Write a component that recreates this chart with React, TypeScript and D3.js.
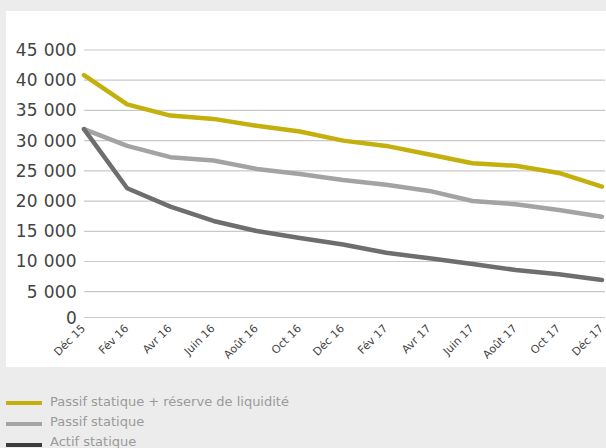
import React from "react";
import * as d3 from "d3";

const categories = ["Déc 15", "Fév 16", "Avr 16", "Juin 16", "Août 16", "Oct 16", "Déc 16", "Fév 17", "Avr 17", "Juin 17", "Août 17", "Oct 17", "Déc 17"];
const passifReserve = [40850, 36000, 34150, 33600, 32450, 31500, 30000, 29130, 27700, 26260, 25850, 24650, 22400];
const passif = [31900, 29130, 27260, 26700, 25320, 24490, 23500, 22700, 21680, 20020, 19470, 18530, 17420];
const actif = [31900, 22120, 19080, 16710, 15050, 13900, 12800, 11460, 10530, 9590, 8600, 7880, 6940];
const yTicks = [0, 5000, 10000, 15000, 20000, 25000, 30000, 35000, 40000, 45000];
const seriesNames = ["Passif statique + réserve de liquidité", "Passif statique", "Actif statique"];
const lineColors = ["#c4b00c", "#a3a3a3", "#6e6e6e"];
const legendColors = ["#c4b00c", "#a3a3a3", "#3c3c3c"];

const W = 606, H = 448;

export default function App() {
  const x = d3.scalePoint<string>().domain(categories).range([84, 602]);
  const y = d3.scaleLinear().domain([0, 5000, 45000]).range([317.5, 291.7, 50]);
  const fmt = (v: number) => d3.format(",")(v).replace(/,/g, "\u00a0");
  const line = d3.line<number>().x((_, i) => x(categories[i])!).y((v) => y(v));
  const series = [passifReserve, passif, actif];
  return (
    <svg width={W} height={H} style={{ position: "absolute", left: 0, top: 0 }} fontFamily="'DejaVu Sans', sans-serif">
      <rect x={0} y={0} width={W} height={H} fill="#ececec" />
      <rect x={6} y={11} width={W - 6} height={356} fill="#ffffff" />
      {yTicks.map((t) => (
        <g key={t}>
          <line x1={84} x2={605} y1={y(t)} y2={y(t)} stroke="#c9c9c9" strokeWidth={1.2} />
          <text x={77} y={y(t) + 6} textAnchor="end" fontSize={17} fill="#444" letterSpacing={0.3}>
            {fmt(t)}
          </text>
        </g>
      ))}
      {categories.map((c) => (
        <text key={c} transform={`translate(${x(c)! + 2},${329}) rotate(-45)`} textAnchor="end" fontSize={11} fill="#444">
          {c}
        </text>
      ))}
      {series.map((s, i) => (
        <path key={i} d={line(s)!} fill="none" stroke={lineColors[i]} strokeWidth={4.5} strokeLinejoin="round" strokeLinecap="round" />
      ))}
      {seriesNames.map((n, i) => (
        <g key={n}>
          <rect x={6} y={401 + i * 21} width={36} height={4} fill={legendColors[i]} />
          <text x={50} y={406 + i * 20} fontSize={13} fill="#9a9a9a">
            {n}
          </text>
        </g>
      ))}
    </svg>
  );
}
